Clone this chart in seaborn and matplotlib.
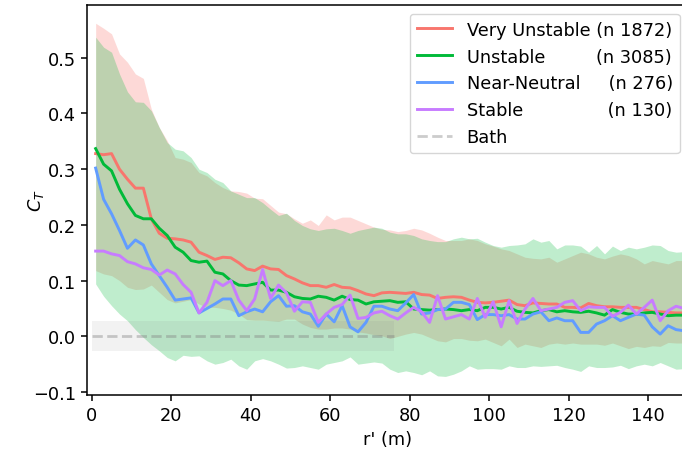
import numpy as np
import pandas as pd
import matplotlib
matplotlib.use("Agg")
import matplotlib.pyplot as plt
import seaborn as sns

# ---------------- data ----------------
r = list(range(1, 150, 2))  # r' (m)

very_unstable = [0.328, 0.326, 0.328, 0.300, 0.282, 0.266, 0.266, 0.211, 0.185, 0.176,
                 0.175, 0.173, 0.169, 0.151, 0.145, 0.138, 0.142, 0.141, 0.132, 0.121,
                 0.118, 0.126, 0.121, 0.120, 0.109, 0.103, 0.096, 0.091, 0.091, 0.088,
                 0.093, 0.088, 0.087, 0.082, 0.076, 0.073, 0.078, 0.079, 0.078, 0.077,
                 0.079, 0.075, 0.074, 0.068, 0.070, 0.071, 0.070, 0.065, 0.061, 0.060,
                 0.061, 0.063, 0.065, 0.057, 0.055, 0.060, 0.059, 0.058, 0.058, 0.052,
                 0.052, 0.051, 0.059, 0.055, 0.053, 0.053, 0.052, 0.052, 0.052, 0.048,
                 0.044, 0.044, 0.043, 0.042, 0.042]
unstable = [0.337, 0.309, 0.297, 0.264, 0.238, 0.217, 0.211, 0.211, 0.194, 0.181,
            0.160, 0.151, 0.136, 0.133, 0.135, 0.115, 0.112, 0.100, 0.092, 0.091,
            0.094, 0.097, 0.083, 0.083, 0.079, 0.071, 0.068, 0.067, 0.072, 0.070,
            0.065, 0.072, 0.066, 0.065, 0.058, 0.062, 0.063, 0.064, 0.061, 0.062,
            0.049, 0.048, 0.047, 0.048, 0.049, 0.048, 0.046, 0.048, 0.046, 0.052,
            0.052, 0.049, 0.052, 0.045, 0.043, 0.042, 0.046, 0.048, 0.044, 0.046,
            0.044, 0.043, 0.045, 0.042, 0.038, 0.048, 0.043, 0.040, 0.040, 0.042,
            0.043, 0.040, 0.037, 0.038, 0.038]
near_neutral = [0.302, 0.246, 0.220, 0.190, 0.158, 0.173, 0.164, 0.130, 0.109, 0.088,
                0.065, 0.067, 0.069, 0.042, 0.050, 0.058, 0.067, 0.067, 0.037, 0.044,
                0.049, 0.044, 0.062, 0.073, 0.054, 0.055, 0.044, 0.040, 0.018, 0.040,
                0.026, 0.055, 0.017, 0.008, 0.025, 0.054, 0.054, 0.049, 0.046, 0.060,
                0.075, 0.040, 0.042, 0.048, 0.049, 0.061, 0.061, 0.057, 0.030, 0.039,
                0.039, 0.037, 0.039, 0.031, 0.031, 0.040, 0.044, 0.028, 0.033, 0.028,
                0.028, 0.007, 0.007, 0.022, 0.028, 0.037, 0.028, 0.034, 0.040, 0.038,
                0.017, 0.004, 0.019, 0.012, 0.010]
stable = [0.153, 0.153, 0.148, 0.145, 0.134, 0.130, 0.123, 0.120, 0.110, 0.119,
          0.112, 0.093, 0.079, 0.042, 0.061, 0.100, 0.091, 0.100, 0.065, 0.046,
          0.067, 0.120, 0.068, 0.092, 0.078, 0.045, 0.062, 0.061, 0.025, 0.040,
          0.052, 0.057, 0.074, 0.032, 0.034, 0.042, 0.045, 0.037, 0.031, 0.042,
          0.052, 0.044, 0.025, 0.073, 0.031, 0.035, 0.039, 0.031, 0.068, 0.034,
          0.062, 0.017, 0.064, 0.023, 0.049, 0.068, 0.046, 0.049, 0.052, 0.061,
          0.064, 0.046, 0.053, 0.052, 0.052, 0.036, 0.043, 0.056, 0.040, 0.052,
          0.065, 0.028, 0.046, 0.054, 0.050]

very_unstable_upper = [0.562, 0.553, 0.543, 0.507, 0.492, 0.471, 0.463, 0.408, 0.375, 0.351,
                       0.321, 0.318, 0.312, 0.294, 0.288, 0.276, 0.267, 0.261, 0.260, 0.257,
                       0.248, 0.247, 0.235, 0.223, 0.220, 0.211, 0.203, 0.209, 0.199, 0.218,
                       0.209, 0.214, 0.214, 0.208, 0.202, 0.196, 0.192, 0.191, 0.188, 0.190,
                       0.194, 0.191, 0.185, 0.178, 0.172, 0.172, 0.172, 0.175, 0.172, 0.166,
                       0.162, 0.157, 0.154, 0.148, 0.142, 0.140, 0.139, 0.142, 0.133, 0.139,
                       0.145, 0.151, 0.148, 0.142, 0.139, 0.144, 0.148, 0.145, 0.139, 0.130,
                       0.136, 0.133, 0.130, 0.136, 0.136]
very_unstable_lower = [0.118, 0.112, 0.109, 0.100, 0.088, 0.084, 0.085, 0.092, 0.079, 0.066,
                       0.060, 0.063, 0.066, 0.058, 0.052, 0.052, 0.050, 0.047, 0.040, 0.030,
                       0.029, 0.029, 0.028, 0.027, 0.031, 0.031, 0.022, 0.016, 0.013, 0.013,
                       0.015, 0.015, 0.013, 0.008, 0.006, 0.003, 0.001, -0.004, 0.000, 0.004,
                       0.007, 0.004, -0.002, -0.008, -0.010, -0.004, -0.004, -0.007, -0.008, -0.005,
                       -0.011, -0.017, -0.005, -0.020, -0.014, -0.017, -0.020, -0.014, -0.012, -0.014,
                       -0.012, -0.014, -0.014, -0.014, -0.016, -0.012, -0.017, -0.022, -0.018, -0.020,
                       -0.017, -0.018, -0.011, -0.012, -0.012]
unstable_upper = [0.537, 0.519, 0.510, 0.471, 0.439, 0.421, 0.420, 0.405, 0.375, 0.348,
                  0.336, 0.333, 0.321, 0.300, 0.294, 0.282, 0.276, 0.261, 0.255, 0.249,
                  0.249, 0.240, 0.228, 0.217, 0.221, 0.208, 0.199, 0.193, 0.190, 0.193,
                  0.194, 0.190, 0.185, 0.190, 0.193, 0.196, 0.194, 0.187, 0.184, 0.184,
                  0.181, 0.175, 0.172, 0.170, 0.170, 0.175, 0.178, 0.175, 0.176, 0.169,
                  0.163, 0.160, 0.163, 0.164, 0.166, 0.175, 0.169, 0.172, 0.157, 0.164,
                  0.164, 0.162, 0.151, 0.163, 0.148, 0.162, 0.154, 0.160, 0.157, 0.160,
                  0.164, 0.163, 0.154, 0.151, 0.152]
unstable_lower = [0.094, 0.072, 0.055, 0.040, 0.028, 0.012, -0.002, -0.015, -0.026, -0.038,
                  -0.044, -0.034, -0.036, -0.035, -0.044, -0.050, -0.047, -0.041, -0.053, -0.059,
                  -0.044, -0.040, -0.044, -0.050, -0.057, -0.056, -0.053, -0.056, -0.059, -0.050,
                  -0.047, -0.044, -0.037, -0.050, -0.048, -0.046, -0.048, -0.059, -0.065, -0.062,
                  -0.065, -0.069, -0.062, -0.071, -0.072, -0.068, -0.062, -0.053, -0.059, -0.058,
                  -0.058, -0.059, -0.053, -0.056, -0.056, -0.053, -0.054, -0.053, -0.052, -0.056,
                  -0.059, -0.063, -0.053, -0.056, -0.056, -0.055, -0.052, -0.058, -0.053, -0.050,
                  -0.053, -0.047, -0.053, -0.059, -0.058]

bath_r = [0, 76]
bath_mean = [0.0, 0.0]
bath_lower = [-0.027, -0.027]
bath_upper = [0.027, 0.027]

labels = ["Very Unstable (n 1872)",
          "Unstable" + " " * 9 + "(n 3085)",
          "Near-Neutral" + " " * 5 + "(n 276)",
          "Stable" + " " * 15 + "(n 130)"]
colors = ["#F8766D", "#00BA38", "#619CFF", "#C77CFF"]

# ---------------- plot ----------------
plt.rcParams.update({
    "font.family": ["DejaVu Sans"],
    "font.size": 12.8,
    "axes.linewidth": 1.1,
    "xtick.major.size": 4.6,
    "ytick.major.size": 4.6,
    "xtick.major.width": 1.1,
    "ytick.major.width": 1.1,
})

fig = plt.figure(figsize=(6.82, 4.52), dpi=100)
ax = fig.add_axes([87.3 / 682, 1 - 395.7 / 452, (688.8 - 87.3) / 682, (395.7 - 5.7) / 452])

ax.fill_between(r, very_unstable_lower, very_unstable_upper, color=colors[0], alpha=0.27, lw=0)
ax.fill_between(r, unstable_lower, unstable_upper, color=colors[1], alpha=0.25, lw=0)
ax.fill_between(bath_r, bath_lower, bath_upper, color="gray", alpha=0.1, lw=0)

series = [very_unstable, unstable, near_neutral, stable]
for vals, lab, col in zip(series, labels, colors):
    df = pd.DataFrame({"r": r, "ct": vals})
    sns.lineplot(data=df, x="r", y="ct", color=col, lw=2.1, label=lab, ax=ax)

sns.lineplot(x=bath_r, y=bath_mean, color="gray", alpha=0.4, lw=2.0,
             linestyle="--", label="Bath", ax=ax)

ax.set_xlim(-1.1, 150.2)
ax.set_ylim(-0.1048, 0.5953)
ax.set_xticks([0, 20, 40, 60, 80, 100, 120, 140])
ax.set_yticks([-0.1, 0.0, 0.1, 0.2, 0.3, 0.4, 0.5])
ax.set_xlabel("r' (m)")
ax.set_ylabel("$C_T$")
ax.yaxis.set_label_coords(-0.068, 0.5)
ax.legend(loc="upper right", fontsize=12.8)

fig.savefig("out.png", dpi=100)
